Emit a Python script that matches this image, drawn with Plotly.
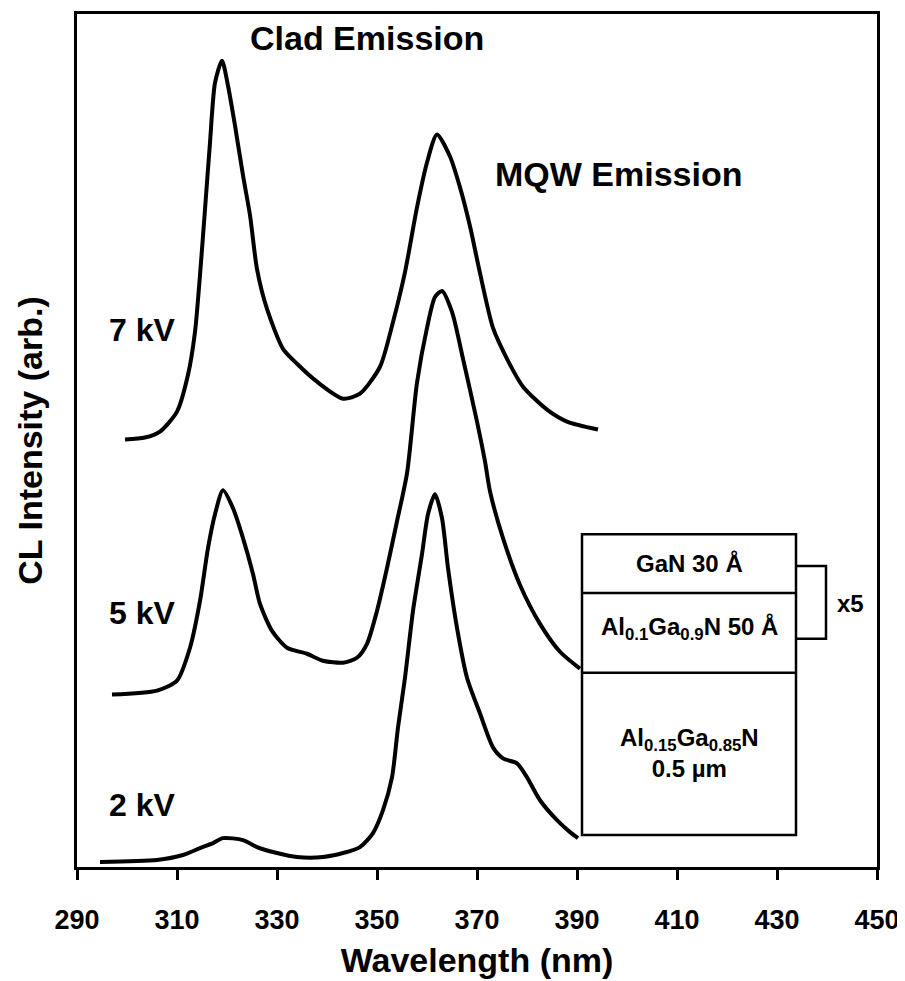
import plotly.graph_objects as go

# ---- data (wavelength in nm, intensity in arb. units incl. offset) ----
wl_7kv = [299.6, 303.6, 306.6, 310.0, 312.2, 313.6, 314.6, 315.6, 316.6, 317.6, 319.0, 320.2,
          321.6, 323.2, 324.6, 326.0, 328.0, 331.2, 334.0, 338.0, 343.2, 346.6, 350.6, 353.2,
          355.6, 358.0, 360.0, 362.0, 364.6, 366.6, 368.6, 370.6, 373.2, 376.0, 379.2, 384.0,
          388.0, 394.2]
int_7kv = [429, 431, 437, 457, 494, 537, 594, 660, 727, 787, 809, 784,
           744, 694, 654, 600, 560, 520, 505, 487, 470, 475, 502, 547,
           597, 662, 707, 735, 713, 682, 643, 596, 541, 510, 482, 459,
           447, 439]

wl_5kv = [297.0, 306.0, 310.0, 312.6, 314.6, 316.2, 317.6, 319.2, 321.2, 323.2, 325.2, 326.6,
          329.0, 332.0, 336.0, 339.2, 343.2, 346.0, 348.0, 350.0, 352.0, 354.0, 356.0, 358.0,
          360.0, 361.6, 363.0, 365.0, 367.2, 370.0, 371.6, 372.6, 375.2, 378.6, 382.6, 386.6,
          390.6]
int_5kv = [173, 177, 187, 220, 267, 320, 354, 378, 360, 330, 294, 264,
           237, 220, 214, 207, 205, 210, 224, 257, 300, 347, 395, 486,
           541, 572, 578, 557, 510, 447, 407, 377, 330, 283, 244, 216,
           199]

wl_2kv = [294.6, 306.0, 311.2, 314.6, 317.2, 319.2, 323.2, 326.0, 330.0, 334.0, 339.2, 343.2,
          346.6, 349.2, 351.2, 353.0, 354.2, 355.6, 357.2, 359.0, 360.2, 361.6, 363.0, 364.2,
          366.0, 368.0, 370.6, 373.2, 375.2, 378.0, 380.0, 382.6, 386.0, 388.6, 390.2]
int_2kv = [5, 7, 12, 19, 24, 29, 27, 20, 14, 10, 10, 14,
           20, 34, 57, 90, 140, 190, 257, 314, 354, 374, 350, 300,
           240, 190, 154, 120, 109, 104, 90, 67, 47, 35, 29]

curve_labels = ["7 kV", "5 kV", "2 kV"]
x_ticks = [290, 310, 330, 350, 370, 390, 410, 430, 450]

FONT = "Liberation Sans"

fig = go.Figure()
for wl, inten, name in [(wl_7kv, int_7kv, curve_labels[0]),
                        (wl_5kv, int_5kv, curve_labels[1]),
                        (wl_2kv, int_2kv, curve_labels[2])]:
    fig.add_trace(go.Scatter(x=wl, y=inten, mode="lines", name=name,
                             line=dict(color="black", width=4, shape="spline", smoothing=0.7),
                             showlegend=False, hoverinfo="skip"))

# annotations
ann = []
def txt(x, y, t, size=30, bold=True):
    ann.append(dict(x=x, y=y, xref="x", yref="y", text=("<b>%s</b>" % t) if bold else t,
                    showarrow=False, font=dict(family=FONT, size=size, color="black"),
                    xanchor="center", yanchor="middle"))

txt(348, 832, "Clad Emission", 34)
txt(398.2, 695, "MQW Emission", 34)
txt(303, 539, curve_labels[0], 32)
txt(303, 255, curve_labels[1], 32)
txt(303, 62, curve_labels[2], 32)

# layer-structure inset
bx0, bx1 = 391, 433.8
shapes = [
    dict(type="rect", xref="x", yref="y", x0=bx0, x1=bx1, y0=32, y1=334,
         line=dict(color="black", width=2.5), fillcolor="white", layer="above"),
    dict(type="line", xref="x", yref="y", x0=bx0, x1=bx1, y0=275, y1=275,
         line=dict(color="black", width=2.5)),
    dict(type="line", xref="x", yref="y", x0=bx0, x1=bx1, y0=195, y1=195,
         line=dict(color="black", width=2.5)),
    dict(type="path", xref="x", yref="y",
         path="M %f,302 L 439.8,302 L 439.8,229 L %f,229" % (bx1, bx1),
         line=dict(color="black", width=2.5)),
]
bsz = 24
txt(412.4, 305, "GaN 30 Å", bsz)
txt(412.4, 239, "Al<sub>0.1</sub>Ga<sub>0.9</sub>N 50 Å", bsz)
txt(412.4, 114, "Al<sub>0.15</sub>Ga<sub>0.85</sub>N<br>0.5 µm", bsz)
txt(444.6, 264, "x5", bsz)

fig.update_layout(
    width=897, height=973,
    margin=dict(l=69, r=28, t=3, b=114),
    paper_bgcolor="white", plot_bgcolor="white",
    annotations=ann, shapes=shapes,
    xaxis=dict(range=[290, 450], tickvals=x_ticks, ticktext=["<b>%d</b>" % v for v in x_ticks],
               ticks="outside", ticklen=10, tickwidth=2.5, tickcolor="black",
               showline=True, linewidth=3, linecolor="black", mirror=True,
               showgrid=False, zeroline=False, ticklabelstandoff=17,
               tickfont=dict(family=FONT, size=27, color="black"),
               title=dict(text="<b>Wavelength (nm)</b>", standoff=14,
                          font=dict(family=FONT, size=34, color="black"))),
    xaxis2=dict(range=[290, 450], tickvals=x_ticks, overlaying="x", anchor="y", side="bottom",
                ticks="inside", ticklen=9, tickwidth=2.5, tickcolor="black",
                showticklabels=False, showline=False, showgrid=False, zeroline=False),
    yaxis=dict(range=[0, 856], showticklabels=False, ticks="",
               showline=True, linewidth=3, linecolor="black", mirror=True,
               showgrid=False, zeroline=False,
               title=dict(text="<b>CL Intensity (arb.)</b>", standoff=22,
                          font=dict(family=FONT, size=34, color="black"))),
)

fig.write_html("out.html")
